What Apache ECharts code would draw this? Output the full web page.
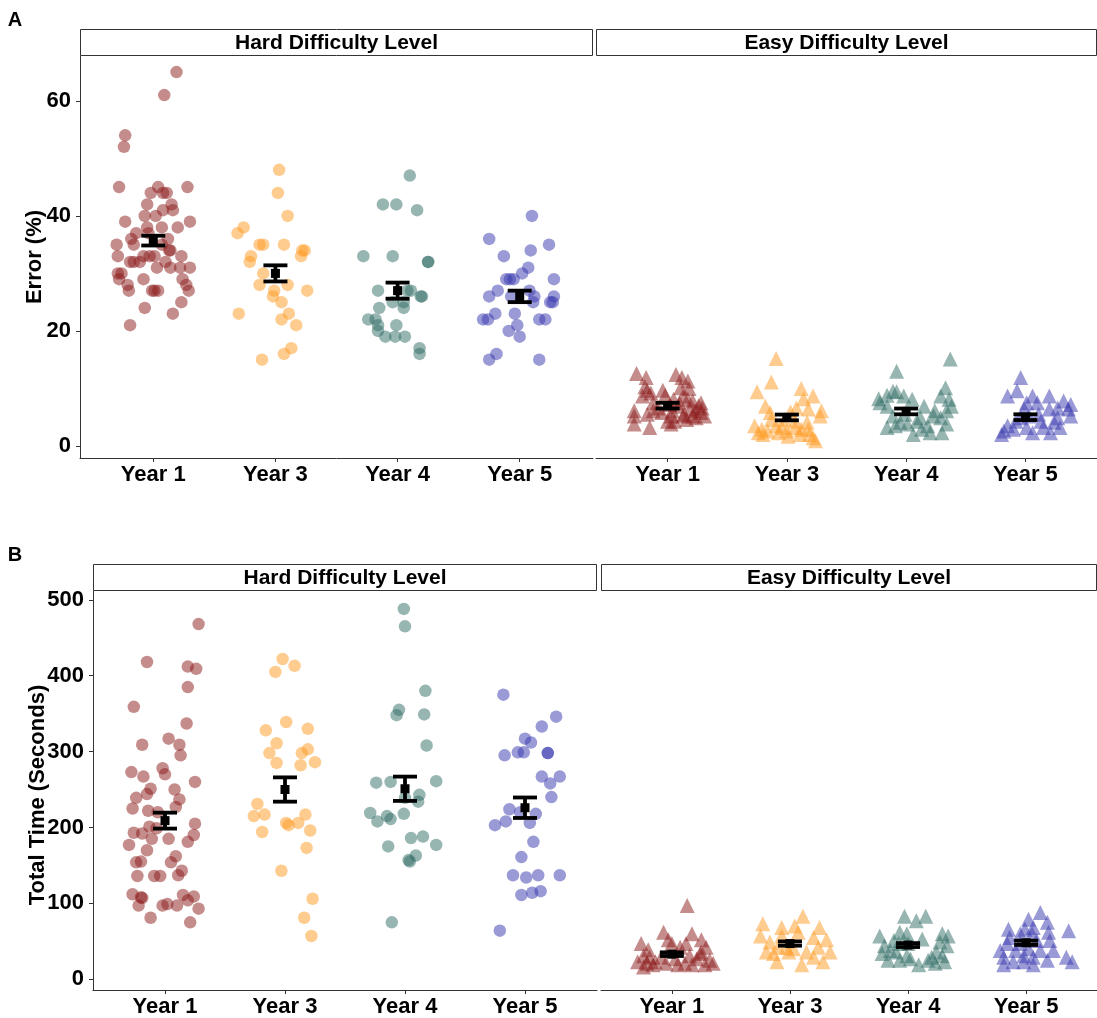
<!DOCTYPE html>
<html><head><meta charset="utf-8">
<script src="https://cdn.jsdelivr.net/npm/echarts@6/dist/echarts.min.js"></script>
<style>html,body{margin:0;padding:0;background:#fff}#c{width:1097px;height:1018px}</style>
</head><body><div id="c"></div>
<script>
const categories = ['Year 1', 'Year 3', 'Year 4', 'Year 5'];
const groupColors = ['#8B1A1A', '#FF9A22', '#2F6B63', '#3535AD'];
const errorTicks = [0, 20, 40, 60];
const timeTicks = [0, 100, 200, 300, 400, 500];
const panelTitles = ['Hard Difficulty Level', 'Easy Difficulty Level'];

// ---- Panel A : Error (%) , hard ----
const errHardY1 = [65,61,54,52,45,45,45,44,44,44,42,42,41,41,40,40,39,39,38,38,38,37,37,36,36,35,35,35,33,34,34,33,33,33,33,32,32,32,31,32,31,31,31,30,30,29,29,29,28,28,27,27,27,27,27,25,24,23,21];
const errHardY1Jit = [.19,.09,-.23,-.24,-.28,.04,.28,-.02,.08,.11,-.05,.15,.08,.16,-.07,.02,-.23,.30,.20,-.05,.07,-.14,-.04,-.18,.12,-.30,-.16,.07,-.29,.13,.14,.23,-.08,-.03,.01,-.19,-.16,-.11,.03,.10,.14,.22,.30,-.29,-.26,-.28,-.08,.24,-.21,.27,-.20,-.01,.01,.04,.29,.23,-.07,.16,-.19];
const errHardY3 = [48,44,40,38,37,35,35,35,34,34,33,33,32,30,28,28,27,27,26,25,23,23,22,21,17,16,15];
const errHardY3Jit = [.03,.02,.10,-.26,-.31,-.13,-.10,.07,.22,.24,.21,-.20,-.21,-.10,-.13,.10,.26,-.01,-.02,.05,-.30,.11,.05,.17,.13,.07,-.11];
const errHardY4 = [47,42,42,41,33,33,32,32,27,27,27,26,26,25,25,24,24,22,22,21,21,20,19,19,19,17,16];
const errHardY4Jit = [.10,-.12,-.01,.16,-.28,-.04,.25,.25,-.16,.08,.11,.19,.20,-.04,.05,.05,-.15,-.24,-.18,-.16,-.01,-.16,-.10,-.02,.06,.18,.18];
const errHardY5 = [40,36,35,34,33,31,30,29,29,29,29,27,27,26,26,26,26,25,25,25,23,22,22,23,22,22,21,20,19,16,15,15];
const errHardY5Jit = [.10,-.25,.24,.09,-.13,.07,.02,-.11,-.08,-.05,.28,-.18,.08,-.25,.12,.28,-.07,.11,.25,.27,-.20,-.30,-.26,-.04,.16,.21,-.02,-.09,.00,-.19,-.25,.16];
const errHardMean = [35.7, 30.0, 27.0, 26.0];
const errHardSE = [0.85, 1.4, 1.4, 1.0];

// ---- Panel A : Error (%) , easy ----
const errEasyY1 = [12.6,11.9,12.4,11.9,11.3,10.3,9.7,9.7,10.1,10.0,8.7,8.8,8.7,8.1,7.5,7.8,7.5,7.2,6.9,6.6,6.1,6.1,6.1,6.1,5.8,5.2,5.5,5.2,5.2,5.2,5.2,3.8,3.2,3.8,4.3,4.6,4.9,6.6,7.5,5.8,4.3,6.4,7.0,9.2,5.5,8.1];
const errEasyY1Jit = [-.26,-.18,.07,.12,.17,-.19,-.17,-.04,.11,.18,-.21,-.02,.13,.17,-.12,.21,.28,.02,.09,.29,-.28,-.12,.04,.23,.28,-.28,-.17,.03,.13,.21,.31,-.28,-.15,.03,.06,.16,.24,-.08,.10,-.05,.00,.19,.26,-.14,.14,.05];
const errEasyY3 = [15.2,11.1,9.4,10.0,8.7,8.2,6.9,6.6,6.4,6.1,5.8,5.9,5.2,3.5,2.9,2.6,3.5,2.3,3.2,2.6,3.2,2.9,2.0,2.9,2.0,1.4,0.9,4.3,4.6,4.6,2.0,2.3,4.1,1.7];
const errEasyY3Jit = [-.09,-.13,-.25,.12,.22,.14,-.18,.08,.18,.29,-.14,.03,.28,-.27,-.21,-.16,-.09,-.07,-.04,.00,.07,.12,.11,.18,.19,.22,.24,.07,-.02,-.13,-.20,-.24,.17,.01];
const errEasyY4 = [15.1,13.0,10.1,9.5,8.8,9.4,8.7,8.2,8.7,8.1,8.1,6.9,6.9,6.9,6.1,6.1,5.2,4.9,3.2,3.5,4.1,3.8,2.0,2.9,3.5,2.3,2.3,3.8,5.5,4.9,5.2,7.5,4.3];
const errEasyY4Jit = [.37,-.08,.33,-.11,-.16,-.08,-.02,-.23,.29,.36,.05,-.16,.15,.38,.24,.34,-.11,.29,-.16,-.09,-.05,.01,.06,.13,.18,.20,.30,.34,-.01,.12,.23,-.22,.09];
const errEasyY5 = [11.9,9.6,8.7,8.7,8.7,7.8,7.2,7.5,7.5,6.6,6.4,5.2,6.4,5.2,4.9,4.9,3.5,2.6,2.9,3.2,2.3,3.2,2.3,3.2,4.3,4.3,2.0,4.1,5.5,6.4];
const errEasyY5Jit = [-.04,-.07,-.15,.06,.20,.32,.38,.01,.10,.27,.36,.38,-.01,.03,-.04,.27,-.15,-.18,-.10,.01,.06,.15,.21,.29,.13,-.08,-.20,.24,.11,.20];
const errEasyMean = [7.0, 4.95, 6.0, 5.0];
const errEasySE = [0.5, 0.5, 0.5, 0.5];

// ---- Panel B : Total Time (Seconds) , hard ----
const timeHardY1 = [468,418,412,409,385,359,337,317,309,309,295,278,270,273,267,260,251,250,244,239,237,225,222,227,220,199,201,205,193,192,185,185,190,177,181,170,162,154,154,155,143,137,136,136,136,112,108,107,111,97,97,99,97,104,109,93,81,75];
const timeHardY1Jit = [.28,-.15,.19,.26,.19,-.26,.18,.03,-.19,.12,.13,-.02,.00,-.28,-.18,.25,-.12,.08,-.15,-.24,.12,-.27,-.14,.09,-.06,-.07,-.13,.25,-.26,-.19,-.11,.03,.24,-.30,.19,-.15,.09,.05,-.24,-.20,.14,.11,-.23,-.09,-.04,-.27,-.20,-.19,.15,-.22,-.02,.02,.10,.19,.24,.28,-.12,.21];
const timeHardY3 = [422,413,405,339,328,330,311,298,298,303,285,282,286,231,215,217,217,206,203,206,196,194,173,143,106,81,57];
const timeHardY3Jit = [-.02,.08,-.08,.01,-.16,.19,-.07,-.13,.14,.19,-.07,.13,.25,-.23,-.26,-.17,.17,.01,.03,.11,.21,-.19,.18,-.03,.23,.16,.22];
const timeHardY4 = [488,465,380,355,348,349,308,259,260,261,243,234,239,219,208,215,211,218,186,188,177,175,163,157,155,75];
const timeHardY4Jit = [-.01,.00,.17,-.05,-.07,.16,.18,-.24,-.12,.26,.12,.11,.00,-.29,-.23,-.15,-.12,-.01,.05,.15,.26,-.14,.09,.03,.04,-.11];
const timeHardY5 = [375,346,333,317,312,295,299,299,298,298,267,267,258,240,224,220,218,208,203,206,181,161,137,134,137,137,111,114,116,64];
const timeHardY5Jit = [-.18,.26,.14,.00,.05,-.17,-.06,-.01,.19,.19,.14,.29,.21,.22,-.13,-.04,.09,-.16,-.25,.04,.07,-.03,-.10,.01,.11,.29,-.03,.06,.13,-.21];
const timeHardMean = [209, 250, 251, 226];
const timeHardSE = [10.5, 16, 16, 13.5];

// ---- Panel B : Total Time (Seconds) , easy ----
const timeEasyY1 = [97,62,60,47,39,52,47,42,47,52,42,31,29,23,16,23,29,21,19,21,19,27,34,25,21,19,19,21,27,31,36];
const timeEasyY1Jit = [.13,-.07,.17,-.26,-.20,-.03,.00,.07,.12,.25,.29,-.24,-.19,-.29,-.24,-.14,-.09,-.05,.05,.11,.17,.21,.24,.32,.35,.28,-.16,-.21,.03,.15,.25];
const timeEasyY3 = [83,73,68,70,62,68,57,57,55,52,49,42,42,36,36,36,36,29,23,23,19,42,40,34];
const timeEasyY3Jit = [.11,-.23,-.07,.04,.07,.25,-.25,-.07,.20,.31,-.17,-.10,.24,-.20,-.01,.14,.34,.20,.28,-.11,.10,-.03,.03,-.14];
const timeEasyY4 = [83,83,77,57,62,60,60,57,51,53,44,47,47,49,44,34,36,31,36,31,25,25,27,19,25,21,23,38,29];
const timeEasyY4Jit = [-.03,.15,.07,-.24,-.07,-.01,.29,.34,-.12,.12,-.20,-.08,.00,.27,.33,-.22,-.10,-.01,.24,.29,-.17,-.07,.02,.09,.17,.23,.31,-.15,.20];
const timeEasyY5 = [88,79,66,66,75,68,64,60,60,62,47,47,51,51,38,38,40,38,38,29,31,29,29,19,23,23,19,25,23,55];
const timeEasyY5Jit = [.12,.02,-.15,-.01,.18,.06,.36,-.05,.05,.19,-.16,-.05,.09,.20,-.22,-.09,.02,.12,.23,-.19,-.02,.06,.34,-.19,-.11,-.02,.06,.18,.39,-.14];
const timeEasyMean = [33, 47, 45, 48];
const timeEasySE = [2.4, 2.8, 2.6, 2.8];

// ------------------------------------------------------------------
const FONT = '"Liberation Sans", Arial, Helvetica, sans-serif';
const panels = [
  { groups: [[errHardY1, errHardY1Jit], [errHardY3, errHardY3Jit], [errHardY4, errHardY4Jit], [errHardY5, errHardY5Jit]], mean: errHardMean, se: errHardSE, shape: 'circle', size: 12.5, ymin: -2.1, ymax: 67.8, ticks: errorTicks, showY: true, grid: { left: 80, top: 56, width: 513, height: 402 } },
  { groups: [[errEasyY1, errEasyY1Jit], [errEasyY3, errEasyY3Jit], [errEasyY4, errEasyY4Jit], [errEasyY5, errEasyY5Jit]], mean: errEasyMean, se: errEasySE, shape: 'triangle', size: 15, ymin: -2.1, ymax: 67.8, ticks: errorTicks, showY: false, grid: { left: 596, top: 56, width: 501, height: 402 } },
  { groups: [[timeHardY1, timeHardY1Jit], [timeHardY3, timeHardY3Jit], [timeHardY4, timeHardY4Jit], [timeHardY5, timeHardY5Jit]], mean: timeHardMean, se: timeHardSE, shape: 'circle', size: 12.5, ymin: -14.2, ymax: 511.6, ticks: timeTicks, showY: true, grid: { left: 93, top: 591, width: 504, height: 407 } },
  { groups: [[timeEasyY1, timeEasyY1Jit], [timeEasyY3, timeEasyY3Jit], [timeEasyY4, timeEasyY4Jit], [timeEasyY5, timeEasyY5Jit]], mean: timeEasyMean, se: timeEasySE, shape: 'triangle', size: 15, ymin: -14.2, ymax: 511.6, ticks: timeTicks, showY: false, grid: { left: 601, top: 591, width: 496, height: 407 } }
];

const grids = [], xAxes = [], yAxes = [], series = [];
const catIdx = categories.map((c, i) => i);
panels.forEach((p, g) => {
  grids.push(Object.assign({ containLabel: false }, p.grid));
  xAxes.push({
    type: 'value', gridIndex: g, min: -0.6, max: 3.6, splitLine: { show: false },
    axisLine: { show: true, onZero: false, lineStyle: { color: '#333', width: 1 } },
    axisTick: { show: true, customValues: catIdx, length: 4, lineStyle: { color: '#333' } },
    axisLabel: { customValues: catIdx, formatter: v => categories[Math.round(v)], fontSize: 22, fontWeight: 'bold', color: '#000', fontFamily: FONT, margin: 6 }
  });
  yAxes.push({
    type: 'value', gridIndex: g, min: p.ymin, max: p.ymax, splitLine: { show: false },
    axisLine: { show: p.showY, onZero: false, lineStyle: { color: '#333', width: 1 } },
    axisTick: { show: p.showY, customValues: p.ticks, length: 4, lineStyle: { color: '#333' } },
    axisLabel: { show: p.showY, customValues: p.ticks, fontSize: 22, fontWeight: 'bold', color: '#000', fontFamily: FONT, margin: 9 }
  });
  p.groups.forEach(([vals, jit], c) => {
    series.push({
      type: 'scatter', xAxisIndex: g, yAxisIndex: g, symbol: p.shape, symbolSize: p.size,
      itemStyle: { color: groupColors[c], opacity: 0.5 },
      emphasis: { disabled: true }, silent: true,
      data: vals.map((v, i) => [c + (jit[i] || 0), v])
    });
  });
  series.push({
    type: 'custom', xAxisIndex: g, yAxisIndex: g, silent: true, z: 10,
    data: p.mean.map((m, c) => [c, m, p.se[c]]),
    renderItem: (params, api) => {
      const x = api.value(0), m = api.value(1), s = api.value(2);
      const pc = api.coord([x, m]), pt = api.coord([x, m + s]), pb = api.coord([x, m - s]);
      const hw = 12, lw = 3.8, st = { stroke: '#000', lineWidth: lw };
      return { type: 'group', children: [
        { type: 'line', shape: { x1: pc[0], y1: pt[1], x2: pc[0], y2: pb[1] }, style: st },
        { type: 'line', shape: { x1: pc[0] - hw, y1: pt[1], x2: pc[0] + hw, y2: pt[1] }, style: st },
        { type: 'line', shape: { x1: pc[0] - hw, y1: pb[1], x2: pc[0] + hw, y2: pb[1] }, style: st },
        { type: 'rect', shape: { x: pc[0] - 4.5, y: pc[1] - 4.5, width: 9, height: 9 }, style: { fill: '#000' } }
      ] };
    }
  });
});

const graphics = [];
const strip = (x, y, w, h, t) => {
  graphics.push({ type: 'rect', shape: { x: x, y: y, width: w, height: h }, style: { fill: '#fff', stroke: '#333', lineWidth: 1 }, silent: true });
  graphics.push({ type: 'text', x: x + w / 2, y: y + h / 2 + 1, style: { text: t, fill: '#000', font: 'bold 21px ' + FONT, textAlign: 'center', textVerticalAlign: 'middle' }, silent: true });
};
strip(80.5, 29.5, 512, 26, panelTitles[0]);
strip(596.5, 29.5, 500, 26, panelTitles[1]);
strip(93.5, 564.5, 503, 26, panelTitles[0]);
strip(601.5, 564.5, 495, 26, panelTitles[1]);
graphics.push({ type: 'text', x: 15, y: 20, style: { text: 'A', fill: '#000', font: 'bold 20px ' + FONT, textAlign: 'center', textVerticalAlign: 'middle' } });
graphics.push({ type: 'text', x: 15, y: 555, style: { text: 'B', fill: '#000', font: 'bold 20px ' + FONT, textAlign: 'center', textVerticalAlign: 'middle' } });
graphics.push({ type: 'text', x: 35, y: 257, rotation: Math.PI / 2, style: { text: 'Error (%)', fill: '#000', font: 'bold 22px ' + FONT, textAlign: 'center', textVerticalAlign: 'middle' } });
graphics.push({ type: 'text', x: 38, y: 795, rotation: Math.PI / 2, style: { text: 'Total Time (Seconds)', fill: '#000', font: 'bold 22px ' + FONT, textAlign: 'center', textVerticalAlign: 'middle' } });

const chart = echarts.init(document.getElementById('c'), null, { renderer: 'canvas' });
chart.setOption({
  animation: false, backgroundColor: '#fff',
  grid: grids, xAxis: xAxes, yAxis: yAxes, series: series, graphic: graphics
});
</script></body></html>
